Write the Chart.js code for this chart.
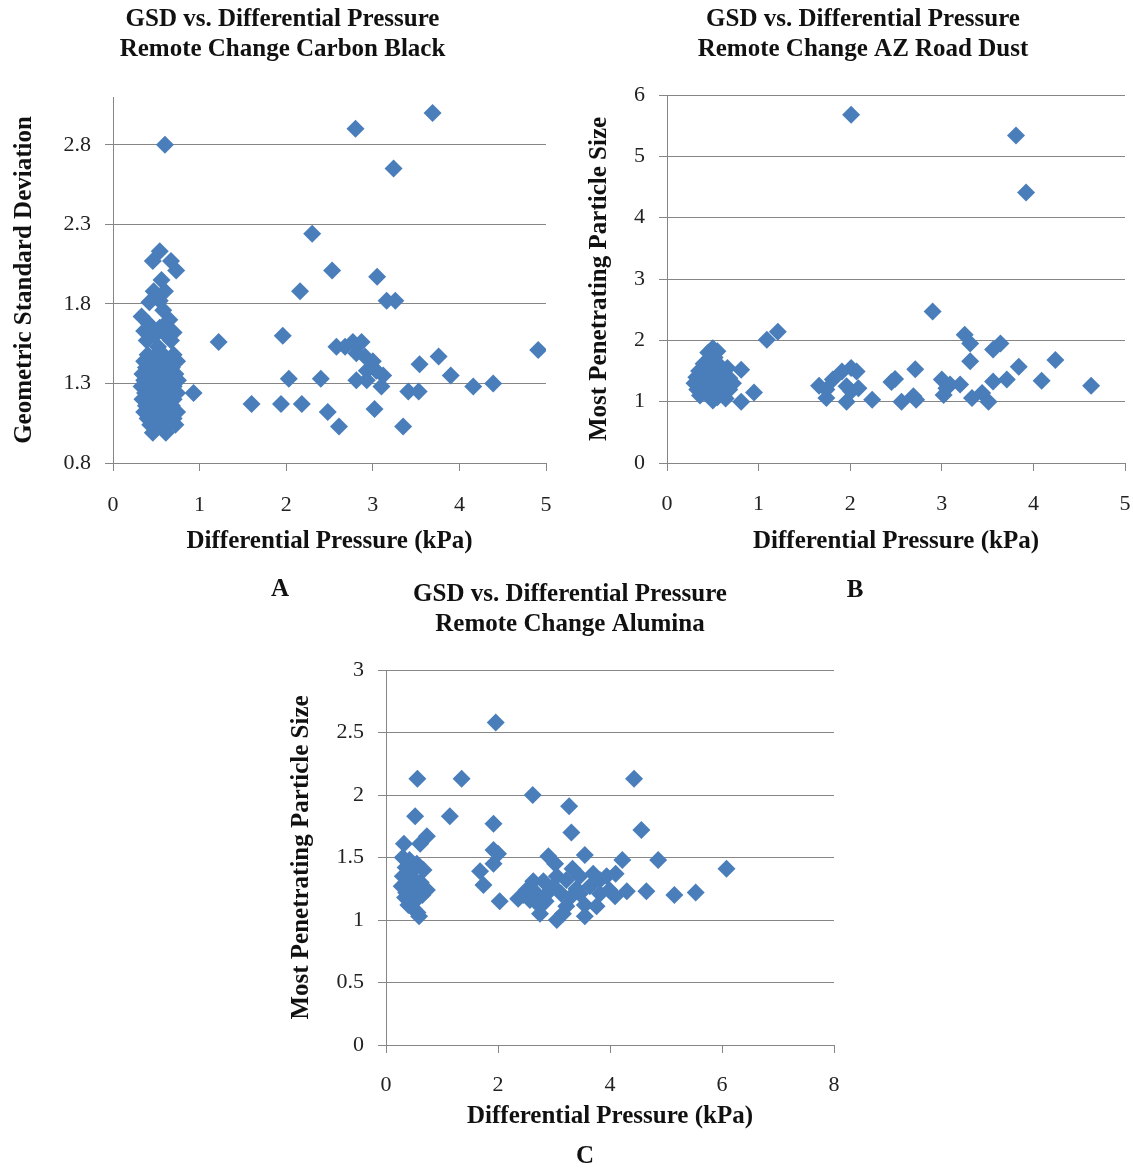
<!DOCTYPE html>
<html>
<head>
<meta charset="utf-8">
<script src="https://cdn.jsdelivr.net/npm/chart.js@4.4.1/dist/chart.umd.min.js"></script>
<style>
body { margin: 0; background: #fff; width: 1133px; height: 1168px; position: relative; overflow: hidden; }
canvas { position: absolute; }
.tag { position: absolute; font: bold 25px "Liberation Serif", serif; color: #111; transform: translate(-50%, -50%); }
</style>
</head>
<body>
<canvas id="chartA" width="565" height="575" style="left:0;top:0"></canvas>
<canvas id="chartB" width="580" height="575" style="left:573px;top:0"></canvas>
<canvas id="chartC" width="600" height="598" style="left:270px;top:570px"></canvas>
<div class="tag" style="left:280px;top:588px">A</div>
<div class="tag" style="left:855px;top:589px">B</div>
<div class="tag" style="left:585px;top:1155px">C</div>
<script>
// points: [differential pressure kPa, value]
var carbonBlack = [
    [0.60, 2.80], [2.80, 2.90], [3.69, 3.00], [3.24, 2.65], [2.30, 2.24], [2.53, 2.01], [3.05, 1.97],
    [2.16, 1.88], [3.16, 1.82], [3.26, 1.82], [1.96, 1.60], [1.22, 1.56], [4.91, 1.51],
    [2.58, 1.53], [2.68, 1.53], [2.77, 1.56], [2.87, 1.56], [2.81, 1.49], [2.91, 1.47], [3.00, 1.44],
    [2.93, 1.38], [2.81, 1.32], [2.93, 1.32], [3.04, 1.38], [3.12, 1.35], [3.10, 1.28],
    [3.76, 1.47], [3.54, 1.42], [3.90, 1.35], [2.03, 1.33], [2.40, 1.33], [4.16, 1.28], [4.39, 1.30],
    [3.41, 1.25], [3.53, 1.25], [0.93, 1.24], [1.60, 1.17], [1.94, 1.17], [2.18, 1.17], [2.48, 1.12],
    [3.02, 1.14], [2.61, 1.03], [3.35, 1.03],
    [0.54, 2.13], [0.46, 2.07], [0.67, 2.07], [0.73, 2.01], [0.56, 1.95], [0.60, 1.88], [0.47, 1.88],
    [0.42, 1.81], [0.54, 1.82], [0.58, 1.76], [0.33, 1.72], [0.65, 1.70], [0.42, 1.67], [0.54, 1.65],
    [0.62, 1.60], [0.39, 1.57], [0.67, 1.57], [0.52, 1.53], [0.36, 1.63], [0.48, 1.60], [0.60, 1.67],
    [0.70, 1.62],
    [0.40, 1.48], [0.50, 1.48], [0.58, 1.48], [0.70, 1.48],
    [0.36, 1.44], [0.46, 1.44], [0.55, 1.44], [0.64, 1.44], [0.74, 1.44],
    [0.38, 1.40], [0.48, 1.40], [0.58, 1.40], [0.68, 1.40],
    [0.34, 1.36], [0.44, 1.36], [0.52, 1.36], [0.62, 1.36], [0.72, 1.36],
    [0.36, 1.32], [0.46, 1.32], [0.56, 1.32], [0.66, 1.32], [0.75, 1.32],
    [0.33, 1.28], [0.42, 1.28], [0.52, 1.28], [0.60, 1.28], [0.70, 1.28],
    [0.37, 1.24], [0.47, 1.24], [0.57, 1.24], [0.65, 1.24], [0.74, 1.24],
    [0.34, 1.20], [0.44, 1.20], [0.54, 1.20], [0.62, 1.20], [0.70, 1.20],
    [0.38, 1.16], [0.48, 1.16], [0.58, 1.16], [0.68, 1.16],
    [0.36, 1.12], [0.46, 1.12], [0.56, 1.12], [0.66, 1.12], [0.74, 1.12],
    [0.40, 1.08], [0.50, 1.08], [0.60, 1.08], [0.70, 1.08],
    [0.43, 1.04], [0.54, 1.04], [0.64, 1.04], [0.72, 1.04],
    [0.46, 0.99], [0.61, 0.99]
];
var roadDust = [
    [2.01, 5.68], [3.81, 5.34], [3.92, 4.41], [2.90, 2.47], [1.09, 2.01], [1.21, 2.14], [3.25, 2.09],
    [3.31, 1.95], [3.31, 1.66], [3.56, 1.85], [3.64, 1.95], [3.84, 1.57], [4.24, 1.68], [4.09, 1.34],
    [4.63, 1.26], [3.71, 1.36], [3.56, 1.33], [3.44, 1.14], [3.51, 1.00], [3.33, 1.06], [3.20, 1.28],
    [3.00, 1.36], [3.09, 1.28], [3.02, 1.11], [3.05, 1.22], [2.71, 1.53], [2.69, 1.09], [2.72, 1.03],
    [2.56, 1.00], [2.49, 1.37], [2.45, 1.32], [2.24, 1.03], [2.07, 1.49], [2.01, 1.55], [1.91, 1.49],
    [1.96, 1.25], [2.09, 1.22], [2.01, 1.17], [1.96, 1.00], [1.81, 1.36], [1.74, 1.06], [1.66, 1.26],
    [1.74, 1.20], [0.81, 1.52], [0.81, 1.00], [0.95, 1.15],
    [0.50, 1.87], [0.55, 1.82], [0.45, 1.80], [0.52, 1.72], [0.40, 1.62], [0.48, 1.60], [0.58, 1.58],
    [0.66, 1.55], [0.35, 1.50], [0.44, 1.48], [0.54, 1.46], [0.62, 1.45], [0.32, 1.40], [0.40, 1.38],
    [0.50, 1.38], [0.58, 1.36], [0.68, 1.38], [0.30, 1.30], [0.38, 1.28], [0.47, 1.30], [0.56, 1.27],
    [0.64, 1.28], [0.72, 1.30], [0.33, 1.20], [0.42, 1.18], [0.52, 1.20], [0.60, 1.16], [0.68, 1.20],
    [0.36, 1.10], [0.46, 1.10], [0.55, 1.07], [0.64, 1.05], [0.50, 1.02]
];
var alumina = [
    [1.96, 2.58], [0.56, 2.13], [1.35, 2.13], [4.43, 2.13], [2.62, 2.00], [3.27, 1.91], [0.52, 1.83],
    [1.14, 1.83], [1.92, 1.77], [3.31, 1.70], [4.56, 1.72], [0.73, 1.67], [0.61, 1.61], [0.32, 1.61],
    [1.92, 1.56], [2.00, 1.53], [1.92, 1.45], [1.68, 1.39], [1.74, 1.28], [2.03, 1.15],
    [2.90, 1.51], [3.02, 1.45], [3.55, 1.52], [3.33, 1.41], [4.22, 1.48], [4.10, 1.37], [3.70, 1.37],
    [3.82, 1.32], [3.64, 1.27], [3.46, 1.21], [3.31, 1.19], [3.13, 1.21], [2.99, 1.27], [2.81, 1.31],
    [2.63, 1.31], [2.51, 1.24], [2.36, 1.17], [2.57, 1.16], [2.75, 1.11], [2.75, 1.05], [3.05, 1.00],
    [3.16, 1.05], [3.22, 1.11], [3.55, 1.03], [3.55, 1.12], [3.76, 1.11], [3.82, 1.21], [3.99, 1.24],
    [4.09, 1.19], [4.30, 1.23], [4.65, 1.23], [5.15, 1.20], [5.53, 1.22], [6.08, 1.41], [4.86, 1.48],
    [2.69, 1.21], [2.87, 1.21], [3.05, 1.35], [3.22, 1.32], [3.46, 1.35], [3.94, 1.35], [2.45, 1.20],
    [2.60, 1.25], [2.85, 1.15], [3.40, 1.25],
    [0.30, 1.50], [0.42, 1.48], [0.55, 1.45], [0.35, 1.42], [0.48, 1.40], [0.67, 1.40], [0.30, 1.35],
    [0.40, 1.33], [0.52, 1.32], [0.62, 1.30], [0.28, 1.27], [0.38, 1.25], [0.50, 1.24], [0.73, 1.24],
    [0.34, 1.18], [0.45, 1.17], [0.58, 1.18], [0.40, 1.12], [0.49, 1.09], [0.56, 1.06], [0.59, 1.03],
    [0.36, 1.22], [0.65, 1.20]
];
var gsdTicks = [0.8, 1.3, 1.8, 2.3, 2.8];

var titleA = ["GSD vs. Differential Pressure", "Remote Change Carbon Black"];
var titleB = ["GSD vs. Differential Pressure", "Remote Change AZ Road Dust"];
var titleC = ["GSD vs. Differential Pressure", "Remote Change Alumina"];
var xTitle = "Differential Pressure (kPa)";

var blue = "#4a7ebb";
var gray = "#868686";
var serif = "'Liberation Serif', 'Times New Roman', serif";

function toPoints(list) {
    return list.map(function (p) { return {x: p[0], y: p[1]}; });
}

function renderChart(id, o) {
    var canvas = document.getElementById(id);
    var yScale = {
        min: o.yMin,
        max: o.yMax,
        border: {color: gray},
        grid: {color: gray, tickColor: gray, tickLength: 8},
        ticks: {
            stepSize: o.yStep, padding: 14, color: "#222", font: {family: serif, size: 22},
            callback: function (v) { return o.yTicks ? v.toFixed(1) : String(v); }
        },
        title: {display: true, text: o.yTitle, color: "#111", padding: {top: o.yTitlePad, bottom: 0},
            font: {family: serif, size: 25, weight: "bold", lineHeight: 1.2}},
        afterFit: function (s) { s.width = o.left; }
    };
    if (o.yTicks) {
        yScale.afterBuildTicks = function (s) {
            s.ticks = o.yTicks.map(function (v) { return {value: v}; });
        };
    }
    return new Chart(canvas, {
        type: "scatter",
        data: {
            datasets: [{
                data: toPoints(o.points),
                pointStyle: "rectRot",
                pointRadius: 9,
                pointBorderWidth: 0,
                backgroundColor: blue,
                borderColor: blue
            }]
        },
        options: {
            responsive: false,
            animation: false,
            layout: {padding: {left: 0, top: 0, right: 0, bottom: canvas.height - o.bottom - o.xHeight}},
            plugins: {
                legend: {display: false},
                tooltip: {enabled: false},
                title: {
                    display: true,
                    text: o.title,
                    color: "#111",
                    font: {family: serif, size: 25, weight: "bold", lineHeight: 1.2},
                    padding: {top: o.titleTop, bottom: o.top - o.titleTop - 60}
                }
            },
            scales: {
                x: {
                    type: "linear",
                    min: 0,
                    max: o.xMax,
                    border: {color: gray},
                    grid: {drawOnChartArea: false, color: gray, tickColor: gray, tickLength: 8},
                    ticks: {stepSize: o.xStep, padding: 3, color: "#222",
                        font: {family: serif, size: 22, lineHeight: o.xTickLH + "px"}},
                    title: {display: true, text: xTitle, color: "#111", padding: {top: 0, bottom: o.xTitlePad},
                        font: {family: serif, size: 25, weight: "bold", lineHeight: 1.2}},
                    afterFit: function (s) { s.height = o.xHeight; }
                },
                y: yScale,
                // empty right-hand strip so the title stays centred on the whole canvas
                yRight: {
                    type: "linear",
                    axis: "y",
                    position: "right",
                    grid: {display: false},
                    border: {display: false},
                    ticks: {display: false},
                    afterFit: function (s) { s.width = canvas.width - o.right; }
                }
            }
        }
    });
}

renderChart("chartA", {
    points: carbonBlack, title: titleA, yTitle: "Geometric Standard Deviation",
    yMin: 0.8, yMax: 3.1, yStep: 0.5, yTicks: gsdTicks, xMax: 5, xStep: 1,
    left: 113, right: 546, top: 97, bottom: 463, xHeight: 95,
    titleTop: 5, yTitlePad: 10, xTickLH: 62, xTitlePad: 1
});
renderChart("chartB", {
    points: roadDust, title: titleB, yTitle: "Most Penetrating Particle Size",
    yMin: 0, yMax: 6, yStep: 1, xMax: 5, xStep: 1,
    left: 94, right: 552, top: 95, bottom: 463, xHeight: 95,
    titleTop: 5, yTitlePad: 12, xTickLH: 60, xTitlePad: 1
});
renderChart("chartC", {
    points: alumina, title: titleC, yTitle: "Most Penetrating Particle Size",
    yMin: 0, yMax: 3, yStep: 0.5, xMax: 8, xStep: 2,
    left: 116, right: 564, top: 100, bottom: 475, xHeight: 90,
    titleTop: 10, yTitlePad: 17, xTickLH: 58, xTitlePad: 3
});
</script>
</body>
</html>
